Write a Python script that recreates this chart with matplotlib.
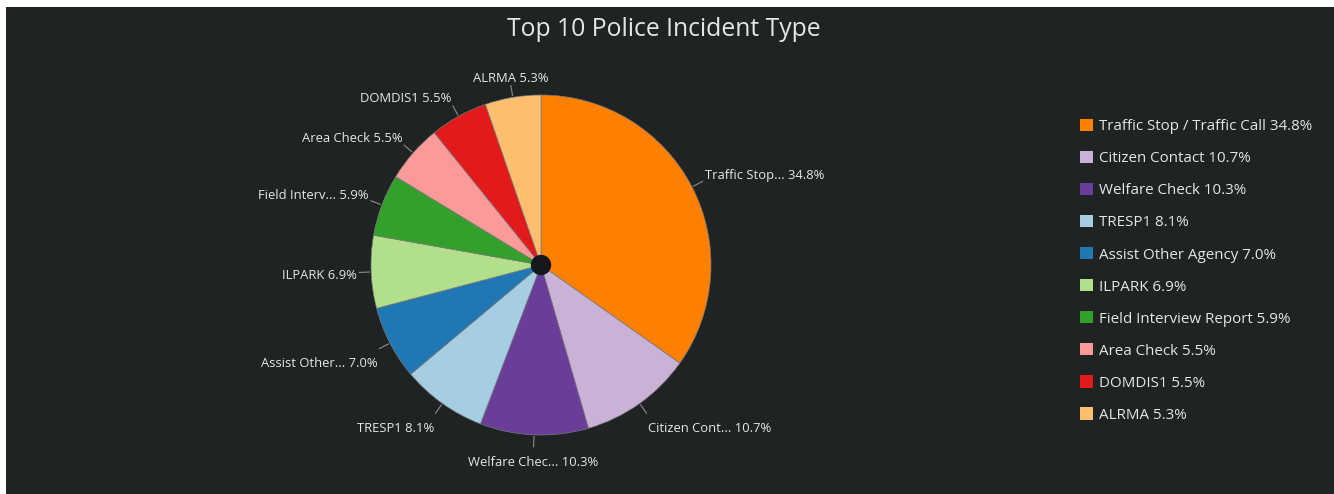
import matplotlib

matplotlib.use("Agg")
import numpy as np
import matplotlib.pyplot as plt
from matplotlib.patches import Rectangle, Circle

plt.rcParams["font.family"] = ["Open Sans", "DejaVu Sans"]

incident_types = [
    "Traffic Stop / Traffic Call",
    "Citizen Contact",
    "Welfare Check",
    "TRESP1",
    "Assist Other Agency",
    "ILPARK",
    "Field Interview Report",
    "Area Check",
    "DOMDIS1",
    "ALRMA",
]
short_names = [
    "Traffic Stop...",
    "Citizen Cont...",
    "Welfare Chec...",
    "TRESP1",
    "Assist Other...",
    "ILPARK",
    "Field Interv...",
    "Area Check",
    "DOMDIS1",
    "ALRMA",
]
shares = [34.8, 10.7, 10.3, 8.1, 7.0, 6.9, 5.9, 5.5, 5.5, 5.3]
colors = [
    "#ff7f00", "#cab2d6", "#6a3d9a", "#a6cee3", "#1f78b4",
    "#b2df8a", "#33a02c", "#fb9a99", "#e31a1c", "#fdbf6f",
]

BG = "#1f2323"
TXT = "#e6e6e6"

W, H = 1334, 494
fig = plt.figure(figsize=(W / 100, H / 100), dpi=100, facecolor="white")
# dark panel, leaving a thin white margin on the left and top
fig.patches.append(Rectangle((6 / W, 0), 1 - 6 / W, 1 - 7 / H,
                             transform=fig.transFigure, facecolor=BG,
                             edgecolor="none", zorder=-10))

R = 170
span = 1.3
cx, cy = 541, H - 265
side = 2 * span * R
ax = fig.add_axes([(cx - side / 2) / W, (cy - side / 2) / H, side / W, side / H])
ax.set_aspect("equal")
ax.axis("off")

wedges, _ = ax.pie(
    shares,
    colors=colors,
    startangle=90,
    counterclock=False,
    radius=1.0,
    wedgeprops=dict(edgecolor="#7a7a7a", linewidth=0.5),
)
ax.set_xlim(-span, span)
ax.set_ylim(-span, span)
ax.add_patch(Circle((0, 0), 0.06, facecolor="#16191b", edgecolor="none", zorder=5))

for w, name, val in zip(wedges, short_names, shares):
    ang = np.deg2rad((w.theta1 + w.theta2) / 2)
    c, s = np.cos(ang), np.sin(ang)
    ax.plot([1.01 * c, 1.07 * c], [1.01 * s, 1.07 * s],
            color="#8c8c8c", linewidth=0.8)
    if c > 0.3:
        ha = "left"
    elif c < -0.3:
        ha = "right"
    else:
        ha = "center"
    r = 1.085
    tx, ty = r * c, r * s
    if s > 0.2:
        va = "bottom"
        ty -= 0.01
    elif s < -0.2:
        va = "top"
        ty -= 0.04
    else:
        va = "center"
        ty -= 0.015
    ax.text(tx, ty, f"{name} {val:.1f}%", ha=ha, va=va,
            color=TXT, fontsize=9.4)

fig.text(664 / W, 1 - 29 / H, "Top 10 Police Incident Type", ha="center",
         va="center", color=TXT, fontsize=17.8)

leg = fig.legend(
    wedges,
    [f"{n} {v:.1f}%" for n, v in zip(incident_types, shares)],
    loc="upper left",
    bbox_to_anchor=(1074 / W, 1 - 113 / H),
    frameon=False,
    fontsize=10.9,
    labelcolor=TXT,
    handlelength=0.87,
    handleheight=0.87,
    handletextpad=0.4,
    labelspacing=1.1,
    borderaxespad=0,
)
for h in leg.legend_handles:
    h.set_edgecolor("none")

fig.savefig("out.png", dpi=100, facecolor=fig.get_facecolor())
